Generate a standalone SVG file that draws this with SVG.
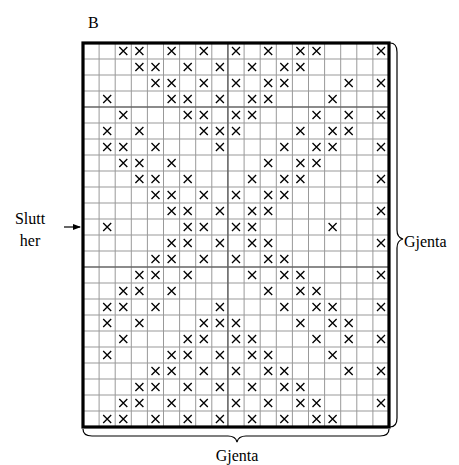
<svg xmlns="http://www.w3.org/2000/svg" xmlns:xlink="http://www.w3.org/1999/xlink" width="459" height="465" viewBox="0 0 459 465">
<style>
.t{font-family:"Liberation Serif","Times New Roman",serif;font-size:16px;fill:#000}
.g{stroke:#999;stroke-width:1;fill:none}
.gt{stroke:#666;stroke-width:1.6;fill:none}
.b{stroke:#000;stroke-width:3.2;fill:none}
.br{stroke:#000;stroke-width:1.2;fill:none}
</style>
<defs>
<path id="x" d="M-4,-4L4,4M-4,4L4,-4" stroke="#000" stroke-width="1.3" fill="none"/>
<marker id="ah" markerWidth="8" markerHeight="8" refX="7" refY="4" orient="auto" markerUnits="userSpaceOnUse"><path d="M0,1L8,4L0,7z" fill="#000"/></marker>
</defs>
<rect width="459" height="465" fill="#fff"/>
<text class="t" x="88" y="28">B</text>
<g id="chart">
<path class="g" d="M99.1,43V427M115.2,43V427M131.3,43V427M147.4,43V427M163.5,43V427M179.6,43V427M195.7,43V427M211.8,43V427M244.1,43V427M260.2,43V427M276.3,43V427M292.4,43V427M308.5,43V427M324.6,43V427M340.7,43V427M356.8,43V427M372.9,43V427
M83,59H389M83,75H389M83,91H389M83,123H389M83,139H389M83,155H389M83,171H389M83,187H389M83,203H389M83,219H389M83,235H389M83,251H389M83,283H389M83,299H389M83,315H389M83,331H389M83,347H389M83,363H389M83,379H389M83,395H389M83,411H389"/>
<path class="gt" d="M227.9,43V427M83,107H389M83,267H389"/>
<g id="marks">
<use href="#x" x="123.3" y="51"/><use href="#x" x="139.4" y="51"/><use href="#x" x="171.6" y="51"/><use href="#x" x="203.8" y="51"/><use href="#x" x="236" y="51"/><use href="#x" x="268.2" y="51"/><use href="#x" x="300.4" y="51"/><use href="#x" x="316.5" y="51"/><use href="#x" x="381" y="51"/>
<use href="#x" x="139.4" y="67"/><use href="#x" x="155.5" y="67"/><use href="#x" x="187.7" y="67"/><use href="#x" x="219.9" y="67"/><use href="#x" x="252.1" y="67"/><use href="#x" x="284.3" y="67"/><use href="#x" x="300.4" y="67"/>
<use href="#x" x="155.5" y="83"/><use href="#x" x="171.6" y="83"/><use href="#x" x="203.8" y="83"/><use href="#x" x="236" y="83"/><use href="#x" x="268.2" y="83"/><use href="#x" x="284.3" y="83"/><use href="#x" x="348.7" y="83"/><use href="#x" x="381" y="83"/>
<use href="#x" x="107.2" y="99"/><use href="#x" x="171.6" y="99"/><use href="#x" x="187.7" y="99"/><use href="#x" x="219.9" y="99"/><use href="#x" x="252.1" y="99"/><use href="#x" x="268.2" y="99"/><use href="#x" x="332.6" y="99"/>
<use href="#x" x="123.3" y="115"/><use href="#x" x="187.7" y="115"/><use href="#x" x="203.8" y="115"/><use href="#x" x="236" y="115"/><use href="#x" x="252.1" y="115"/><use href="#x" x="316.5" y="115"/><use href="#x" x="348.7" y="115"/><use href="#x" x="381" y="115"/>
<use href="#x" x="107.2" y="131"/><use href="#x" x="139.4" y="131"/><use href="#x" x="203.8" y="131"/><use href="#x" x="219.9" y="131"/><use href="#x" x="236" y="131"/><use href="#x" x="300.4" y="131"/><use href="#x" x="332.6" y="131"/><use href="#x" x="348.7" y="131"/>
<use href="#x" x="107.2" y="147"/><use href="#x" x="123.3" y="147"/><use href="#x" x="155.5" y="147"/><use href="#x" x="219.9" y="147"/><use href="#x" x="284.3" y="147"/><use href="#x" x="316.5" y="147"/><use href="#x" x="332.6" y="147"/><use href="#x" x="381" y="147"/>
<use href="#x" x="123.3" y="163"/><use href="#x" x="139.4" y="163"/><use href="#x" x="171.6" y="163"/><use href="#x" x="268.2" y="163"/><use href="#x" x="300.4" y="163"/><use href="#x" x="316.5" y="163"/>
<use href="#x" x="139.4" y="179"/><use href="#x" x="155.5" y="179"/><use href="#x" x="187.7" y="179"/><use href="#x" x="252.1" y="179"/><use href="#x" x="284.3" y="179"/><use href="#x" x="300.4" y="179"/><use href="#x" x="381" y="179"/>
<use href="#x" x="155.5" y="195"/><use href="#x" x="171.6" y="195"/><use href="#x" x="203.8" y="195"/><use href="#x" x="236" y="195"/><use href="#x" x="268.2" y="195"/><use href="#x" x="284.3" y="195"/>
<use href="#x" x="171.6" y="211"/><use href="#x" x="187.7" y="211"/><use href="#x" x="219.9" y="211"/><use href="#x" x="252.1" y="211"/><use href="#x" x="268.2" y="211"/><use href="#x" x="381" y="211"/>
<use href="#x" x="107.2" y="227"/><use href="#x" x="187.7" y="227"/><use href="#x" x="203.8" y="227"/><use href="#x" x="236" y="227"/><use href="#x" x="252.1" y="227"/><use href="#x" x="332.6" y="227"/>
<use href="#x" x="171.6" y="243"/><use href="#x" x="187.7" y="243"/><use href="#x" x="219.9" y="243"/><use href="#x" x="252.1" y="243"/><use href="#x" x="268.2" y="243"/><use href="#x" x="381" y="243"/>
<use href="#x" x="155.5" y="259"/><use href="#x" x="171.6" y="259"/><use href="#x" x="203.8" y="259"/><use href="#x" x="236" y="259"/><use href="#x" x="268.2" y="259"/><use href="#x" x="284.3" y="259"/>
<use href="#x" x="139.4" y="275"/><use href="#x" x="155.5" y="275"/><use href="#x" x="187.7" y="275"/><use href="#x" x="252.1" y="275"/><use href="#x" x="284.3" y="275"/><use href="#x" x="300.4" y="275"/><use href="#x" x="381" y="275"/>
<use href="#x" x="123.3" y="291"/><use href="#x" x="139.4" y="291"/><use href="#x" x="171.6" y="291"/><use href="#x" x="268.2" y="291"/><use href="#x" x="300.4" y="291"/><use href="#x" x="316.5" y="291"/>
<use href="#x" x="107.2" y="307"/><use href="#x" x="123.3" y="307"/><use href="#x" x="155.5" y="307"/><use href="#x" x="219.9" y="307"/><use href="#x" x="284.3" y="307"/><use href="#x" x="316.5" y="307"/><use href="#x" x="332.6" y="307"/><use href="#x" x="381" y="307"/>
<use href="#x" x="107.2" y="323"/><use href="#x" x="139.4" y="323"/><use href="#x" x="203.8" y="323"/><use href="#x" x="219.9" y="323"/><use href="#x" x="236" y="323"/><use href="#x" x="300.4" y="323"/><use href="#x" x="332.6" y="323"/><use href="#x" x="348.7" y="323"/>
<use href="#x" x="123.3" y="339"/><use href="#x" x="187.7" y="339"/><use href="#x" x="203.8" y="339"/><use href="#x" x="236" y="339"/><use href="#x" x="252.1" y="339"/><use href="#x" x="316.5" y="339"/><use href="#x" x="348.7" y="339"/><use href="#x" x="381" y="339"/>
<use href="#x" x="107.2" y="355"/><use href="#x" x="171.6" y="355"/><use href="#x" x="187.7" y="355"/><use href="#x" x="219.9" y="355"/><use href="#x" x="252.1" y="355"/><use href="#x" x="268.2" y="355"/><use href="#x" x="332.6" y="355"/>
<use href="#x" x="155.5" y="371"/><use href="#x" x="171.6" y="371"/><use href="#x" x="203.8" y="371"/><use href="#x" x="236" y="371"/><use href="#x" x="268.2" y="371"/><use href="#x" x="284.3" y="371"/><use href="#x" x="348.7" y="371"/><use href="#x" x="381" y="371"/>
<use href="#x" x="139.4" y="387"/><use href="#x" x="155.5" y="387"/><use href="#x" x="187.7" y="387"/><use href="#x" x="219.9" y="387"/><use href="#x" x="252.1" y="387"/><use href="#x" x="284.3" y="387"/><use href="#x" x="300.4" y="387"/>
<use href="#x" x="123.3" y="403"/><use href="#x" x="139.4" y="403"/><use href="#x" x="171.6" y="403"/><use href="#x" x="203.8" y="403"/><use href="#x" x="236" y="403"/><use href="#x" x="268.2" y="403"/><use href="#x" x="300.4" y="403"/><use href="#x" x="316.5" y="403"/><use href="#x" x="381" y="403"/>
<use href="#x" x="107.2" y="419"/><use href="#x" x="123.3" y="419"/><use href="#x" x="155.5" y="419"/><use href="#x" x="187.7" y="419"/><use href="#x" x="219.9" y="419"/><use href="#x" x="252.1" y="419"/><use href="#x" x="284.3" y="419"/><use href="#x" x="316.5" y="419"/><use href="#x" x="332.6" y="419"/>
</g>
<rect class="b" x="83" y="43" width="306" height="384"/>
</g>
<g id="repeat-right">
<path class="br" d="M390,43C395,43 397,46 397,52L397,230C397,236 399,238 403,239C399,240 397,242 397,248L397,418C397,424 395,427 390,427"/>
<text class="t" x="404" y="247">Gjenta</text>
</g>
<g id="repeat-bottom">
<path class="br" d="M83,429C83,434 86,436 92,436L228,436C234,436 236,438 237,442C238,438 240,436 246,436L380,436C386,436 389,434 389,429"/>
<text class="t" x="237" y="461" text-anchor="middle">Gjenta</text>
</g>
<g id="end-label">
<text class="t" x="30" y="224" text-anchor="middle">Slutt</text>
<text class="t" x="30" y="246" text-anchor="middle">her</text>
</g>
<g id="connectors">
<line x1="64" y1="227" x2="80" y2="227" stroke="#000" stroke-width="1.2" marker-end="url(#ah)"/>
</g>
</svg>
